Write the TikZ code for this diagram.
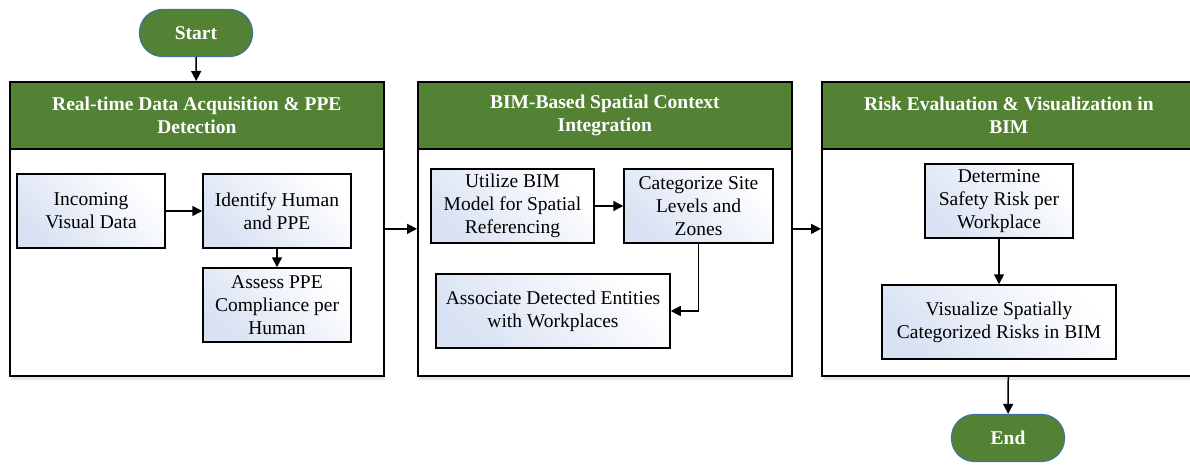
\documentclass[tikz,border=0pt]{standalone}
\usepackage{fontspec}
\setmainfont{Liberation Serif}
\usetikzlibrary{arrows.meta,shadows}
\definecolor{hdrgreen}{HTML}{548235}
\definecolor{termblue}{HTML}{41719C}
\definecolor{boxblue}{HTML}{D9E2F3}
\definecolor{shadeblue}{HTML}{DDE8F5}
\tikzset{
  panel/.style={draw,line width=1.7pt,fill=white,minimum width=374pt,minimum height=294pt,
    inner sep=0pt,drop shadow={shadow xshift=1pt,shadow yshift=-4pt,fill=shadeblue,opacity=1}},
  header/.style={draw,line width=1.7pt,fill=hdrgreen,text=white,minimum width=374pt,
    minimum height=67pt,align=center,inner sep=0pt,
    font=\bfseries\fontsize{19.5}{23}\selectfont},
  term/.style={draw=termblue,line width=1.2pt,fill=hdrgreen,text=white,rounded corners=23pt,
    minimum width=113pt,minimum height=47pt,inner sep=0pt,
    font=\bfseries\fontsize{19.5}{23}\selectfont},
  stepbox/.style={draw,line width=1.5pt,left color=boxblue,right color=white,shading angle=135,
    minimum height=74pt,align=center,inner sep=0pt,
    font=\fontsize{19.5}{23}\selectfont},
  arr/.style={line width=1.5pt,-{Triangle[length=10pt,width=10pt]}}
}
\begin{document}
\begin{tikzpicture}[x=1pt,y=-1pt]
\path[use as bounding box] (0,0) rectangle (1190,465);
% terminals
\node[term] (start) at (196,33) {Start};
\node[term] (finish) at (1008,438) {End};
% panels
\node[panel,anchor=north west] (panelA) at (9,81) {};
\node[panel,anchor=north west] (panelB) at (417,81) {};
\node[panel,anchor=north west] (panelC) at (821,81) {};
\node[header,anchor=north] (hdrA) at (panelA.north) {Real-time Data Acquisition \& PPE\\Detection};
\node[header,anchor=north] (hdrB) at (panelB.north) {BIM-Based Spatial Context\\Integration};
\node[header,anchor=north] (hdrC) at (panelC.north) {Risk Evaluation \& Visualization in\\BIM};
% panel A steps
\node[stepbox,minimum width=148pt] (incoming) at (91,211) {Incoming\\Visual Data};
\node[stepbox,minimum width=148pt] (identify) at (277,211) {Identify Human\\and PPE};
\node[stepbox,minimum width=148pt] (assess) at (277,305) {Assess PPE\\Compliance per\\Human};
% panel B steps
\node[stepbox,minimum width=163pt] (utilize) at (512.5,206) {Utilize BIM\\Model for Spatial\\Referencing};
\node[stepbox,minimum width=149pt] (categorize) at (698.5,206) {Categorize Site\\Levels and\\Zones};
\node[stepbox,minimum width=234pt] (associate) at (553,311) {Associate Detected Entities\\with Workplaces};
% panel C steps
\node[stepbox,minimum width=148pt] (determine) at (999,201) {Determine\\Safety Risk per\\Workplace};
\node[stepbox,minimum width=234pt] (visualize) at (999,322) {Visualize Spatially\\Categorized Risks in BIM};
% connectors
\draw[arr] (start) -- (panelA);
\draw[arr] (incoming) -- (identify);
\draw[arr] (identify) -- (assess);
\draw[arr] (panelA) -- (panelB);
\draw[arr] (utilize) -- (categorize);
\draw[arr] (categorize.south) |- (associate.east);
\draw[arr] (panelB) -- (panelC);
\draw[arr] (determine) -- (visualize);
\draw[arr] (panelC) -- (finish);
\end{tikzpicture}
\end{document}
